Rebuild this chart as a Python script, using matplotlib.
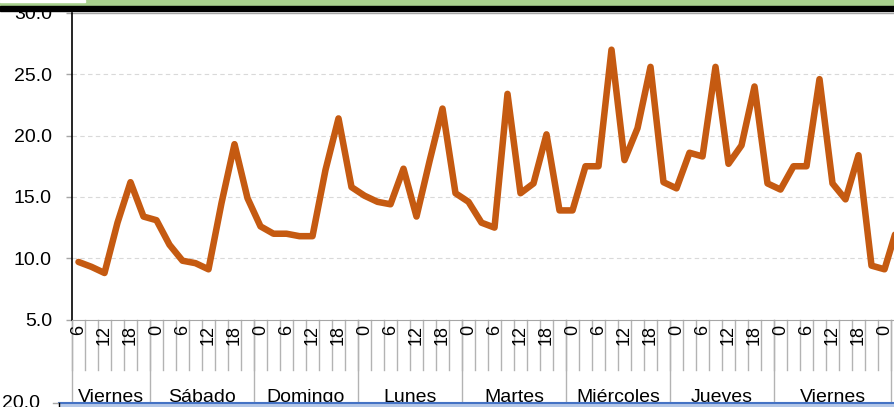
import numpy as np
import matplotlib
matplotlib.use('Agg')
import matplotlib.pyplot as plt
from matplotlib.patches import Rectangle

plt.rcParams['font.family'] = ['Liberation Sans', 'DejaVu Sans']

# values, one every 3 hours
values = [9.7, 9.3, 8.8, 12.9, 16.2, 13.4, 13.1, 11.1, 9.8, 9.6,
          9.1, 14.5, 19.3, 14.9, 12.6, 12.0, 12.0, 11.8, 11.8, 17.2,
          21.4, 15.8, 15.1, 14.6, 14.4, 17.3, 13.4, 17.9, 22.2, 15.3,
          14.6, 12.9, 12.5, 23.4, 15.3, 16.1, 20.1, 13.9, 13.9, 17.5,
          17.5, 27.0, 18.0, 20.6, 25.6, 16.2, 15.7, 18.6, 18.3, 25.6,
          17.7, 19.2, 24.0, 16.1, 15.6, 17.5, 17.5, 24.6, 16.1, 14.8,
          18.4, 9.4, 9.1, 12.6]

day_names = ['Viernes', 'Sábado', 'Domingo', 'Lunes', 'Martes',
             'Miércoles', 'Jueves', 'Viernes']
full_day = [0, 3, 6, 9, 12, 15, 18, 21]
day_hours = [[6, 9, 12, 15, 18, 21]] + [full_day] * 6 + [full_day + [0]]
hours = sum(day_hours, []) + [3]  # last point belongs to the next (cut off) day

yticks = [5, 10, 15, 20, 25, 30]

W, H = 894, 407
fig = plt.figure(figsize=(W / 100, H / 100), dpi=100)
cell = 13.0
x0, ytop, ybot = 72, 12.9, 319.6
n = len(values)
ax = fig.add_axes([x0 / W, (H - ybot) / H, n * cell / W, (ybot - ytop) / H])

ax.plot(range(n), values, color='#C55A11', lw=4.7,
        solid_joinstyle='round', solid_capstyle='round', zorder=3)

ax.set_xlim(-0.5, n - 0.5)
ax.set_ylim(5, 30)
ax.set_yticks(yticks)
ax.set_yticklabels(['%.1f' % v for v in yticks], fontsize=14)
ax.tick_params(axis='y', length=4.0, width=1, color='#a6a6a6', pad=10.5)
ax.set_xticks([])
for v in yticks[1:-1]:
    ax.axhline(v, color='#d9d9d9', lw=0.8, ls=(0, (4, 3)), zorder=1)
ax.axhline(30, color='#a6a6a6', lw=1, zorder=1)

ax.spines['top'].set_visible(False)
ax.spines['right'].set_visible(False)
ax.spines['left'].set_color('black')
ax.spines['left'].set_linewidth(1.2)
ax.spines['bottom'].set_color('#a6a6a6')

# category axis: hour labels, ticks and day groups
tr = ax.get_xaxis_transform()
px = 1.0 / (ybot - ytop)
for i, h in enumerate(hours):
    if i % 2 == 0:
        ax.text(i, -5 * px, str(h), rotation=90, ha='center', va='top',
                fontsize=13, transform=tr, clip_on=False)
bounds = np.cumsum([0] + [len(d) for d in day_hours]) - 0.5
for b in np.arange(-0.5, n, 1.0):
    ax.plot([b, b], [0, -50 * px], color='#b3b3b3', lw=1,
            transform=tr, clip_on=False)
for b in bounds:
    ax.plot([b, b], [0, -95 * px], color='#b3b3b3', lw=1,
            transform=tr, clip_on=False)
for k, name in enumerate(day_names):
    c = (bounds[k] + bounds[k + 1]) / 2
    ax.text(c, -82 * px, name, ha='center', va='baseline', fontsize=14,
            transform=tr, clip_on=False)

# bits of the neighbouring shapes visible in the crop
fig.add_artist(Rectangle((0, 1 - 5.7 / H), 1, 5.7 / H, transform=fig.transFigure,
                         color='#a9d18e', zorder=10))
fig.add_artist(Rectangle((0, 1 - 2.3 / H), 85 / W, 2.3 / H, transform=fig.transFigure,
                         color='white', zorder=11))
fig.add_artist(Rectangle((0, 1 - 10.7 / H), 1, 5.0 / H, transform=fig.transFigure,
                         color='black', zorder=10))
fig.text(40 / W, (H - 404) / H, '20.0', ha='right', va='center', fontsize=14)
fig.add_artist(Rectangle((59 / W, 0), 1, (H - 403) / H, transform=fig.transFigure,
                         facecolor='#b4c7e7', edgecolor='none', zorder=10))
fig.add_artist(plt.Line2D([59 / W, 1], [(H - 403) / H] * 2, transform=fig.transFigure,
                          color='#4472c4', lw=1.5, zorder=11))
fig.add_artist(plt.Line2D([53 / W, 59 / W], [(H - 403) / H] * 2, transform=fig.transFigure,
                          color='#a6a6a6', lw=1, zorder=11))
fig.add_artist(plt.Line2D([59 / W, 59 / W], [0, (H - 403) / H], transform=fig.transFigure,
                          color='black', lw=1, zorder=11))

fig.savefig('out.png', dpi=100)
